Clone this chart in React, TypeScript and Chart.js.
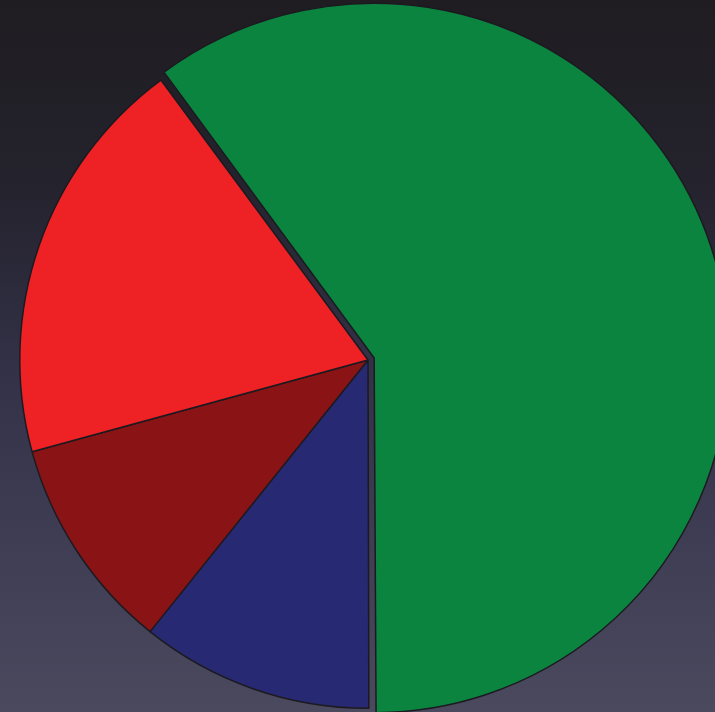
import React, { useEffect, useRef } from "react";
import { Chart, registerables } from "chart.js";

Chart.register(...registerables);

const labels = ["Green", "Blue", "Dark red", "Red"];
const values = [60.1, 10.8, 10.0, 19.1];
const colors = ["#0b8440", "#272a72", "#8a1315", "#ee2125"];
const offsets = [26, 0, 0, 0];

export default function App() {
  const ref = useRef<HTMLCanvasElement | null>(null);
  useEffect(() => {
    document.body.style.margin = "0";
    const chart = new Chart(ref.current!, {
      type: "pie",
      data: {
        labels,
        datasets: [
          {
            data: values,
            backgroundColor: colors,
            borderColor: "#1c1a20",
            borderWidth: 1.5,
            offset: offsets,
          },
        ],
      },
      options: {
        animation: false,
        responsive: false,
        rotation: -36.5,
        layout: { padding: 0 },
        plugins: { legend: { display: false }, tooltip: { enabled: false } },
      },
    });
    return () => chart.destroy();
  }, []);
  return (
    <div
      style={{
        position: "fixed",
        left: 0,
        top: 0,
        width: 715,
        height: 712,
        overflow: "hidden",
        background: "linear-gradient(to bottom, #1f1d21 0%, #24222c 25%, #34334a 55%, #4a495e 100%)",
      }}
    >
      <canvas
        ref={ref}
        width={724}
        height={724}
        style={{ display: "block", position: "absolute", left: 6, top: -2 }}
      />
    </div>
  );
}
